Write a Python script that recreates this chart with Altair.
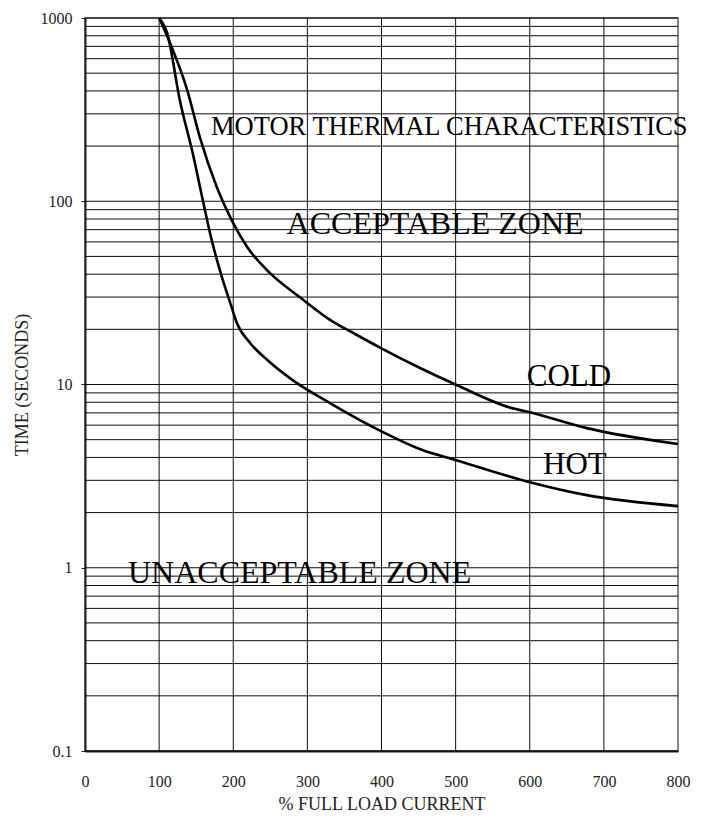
import altair as alt
import pandas as pd

# ---- data ----
cold_x = [100, 115, 138, 155, 178, 198, 219, 250, 290, 330, 365, 398, 452, 502, 573, 600, 677, 800]
cold_y = [1000, 726, 403, 223, 119, 78.7, 56.1, 40.4, 29.9, 22.6, 18.8, 15.9, 12.3, 9.9, 7.5, 7.06, 5.78, 4.73]

hot_x = [100, 111, 128, 146, 159, 171, 182, 196, 205, 223, 246, 281, 331, 402, 456, 492, 600, 677, 800]
hot_y = [1000, 823, 355, 178, 101, 61.2, 42, 27.8, 21.6, 16.8, 13.6, 10.5, 7.9, 5.5, 4.38, 3.96, 2.93, 2.49, 2.17]

x_ticks = [0, 100, 200, 300, 400, 500, 600, 700, 800]
y_ticks = [0.1, 1, 10, 100, 1000]
x_grid = [100, 200, 300, 400, 500, 600, 700]
y_grid = [m * d for d in [0.1, 1, 10, 100] for m in [1, 2, 3, 4, 5, 6, 7, 8, 9]] + [1000]

label_text = ["MOTOR THERMAL CHARACTERISTICS", "ACCEPTABLE ZONE", "COLD", "HOT", "UNACCEPTABLE ZONE"]
label_x = [170, 272, 596, 618, 58]
label_y = [229, 66, 9.8, 3.24, 0.83]
label_size = [26.5, 32, 31, 31, 32]

FONT = "Liberation Serif"

curves = pd.DataFrame(
    {"x": cold_x + hot_x, "y": cold_y + hot_y,
     "series": ["COLD"] * len(cold_x) + ["HOT"] * len(hot_x)}
)
labels = pd.DataFrame({"text": label_text, "x": label_x, "y": label_y, "size": label_size})
xg = pd.DataFrame({"x": x_grid})
yg = pd.DataFrame({"y": y_grid})

xscale = alt.Scale(domain=[0, 800], nice=False, zero=False)
yscale = alt.Scale(type="log", domain=[0.1, 1000], nice=False)

x_axis = alt.Axis(
    values=x_ticks, title="% FULL LOAD CURRENT", grid=False, ticks=False,
    labelPadding=22, labelFontSize=16, labelFont=FONT, labelColor="#222",
    labelFlush=False, labelOverlap=False,
    titleFont=FONT, titleFontSize=18, titleFontWeight="normal", titleColor="#222",
    titlePadding=6, domainColor="#222", domainWidth=2,
)
y_axis = alt.Axis(
    values=y_ticks, format="~g", title="TIME (SECONDS)", grid=False,
    ticks=True, tickSize=4, tickColor="#222", tickWidth=1,
    labelPadding=9, labelFontSize=16, labelFont=FONT, labelColor="#222",
    labelFlush=False, labelOverlap=False,
    titleFont=FONT, titleFontSize=18, titleFontWeight="normal", titleColor="#222",
    titlePadding=9, domainColor="#222", domainWidth=2,
)

X = lambda f: alt.X(f, scale=xscale, axis=x_axis)
Y = lambda f: alt.Y(f, scale=yscale, axis=y_axis)

vgrid = alt.Chart(xg).mark_rule(color="#000", strokeWidth=1, opacity=0.95).encode(x=X("x:Q"))
hgrid = alt.Chart(yg).mark_rule(color="#000", strokeWidth=1, opacity=0.95).encode(y=Y("y:Q"))

lines = alt.Chart(curves).mark_line(color="black", strokeWidth=2.6, interpolate="monotone").encode(
    x=X("x:Q"), y=Y("y:Q"), detail="series:N"
)

text = alt.Chart(labels).mark_text(align="left", baseline="alphabetic", font=FONT, color="black").encode(
    x=X("x:Q"), y=Y("y:Q"), text="text:N", size=alt.Size("size:Q", scale=None, legend=None)
)

chart = (
    alt.layer(vgrid, hgrid, lines, text)
    .properties(
        width=593, height=733,
        autosize=alt.AutoSizeParams(type="none"),
        padding={"left": 77, "top": 10, "right": 16, "bottom": 65},
        background="white",
    )
    .configure_view(stroke="#888", strokeWidth=2)
)

chart.save("out.html", embed_options={"renderer": "svg", "actions": False})
